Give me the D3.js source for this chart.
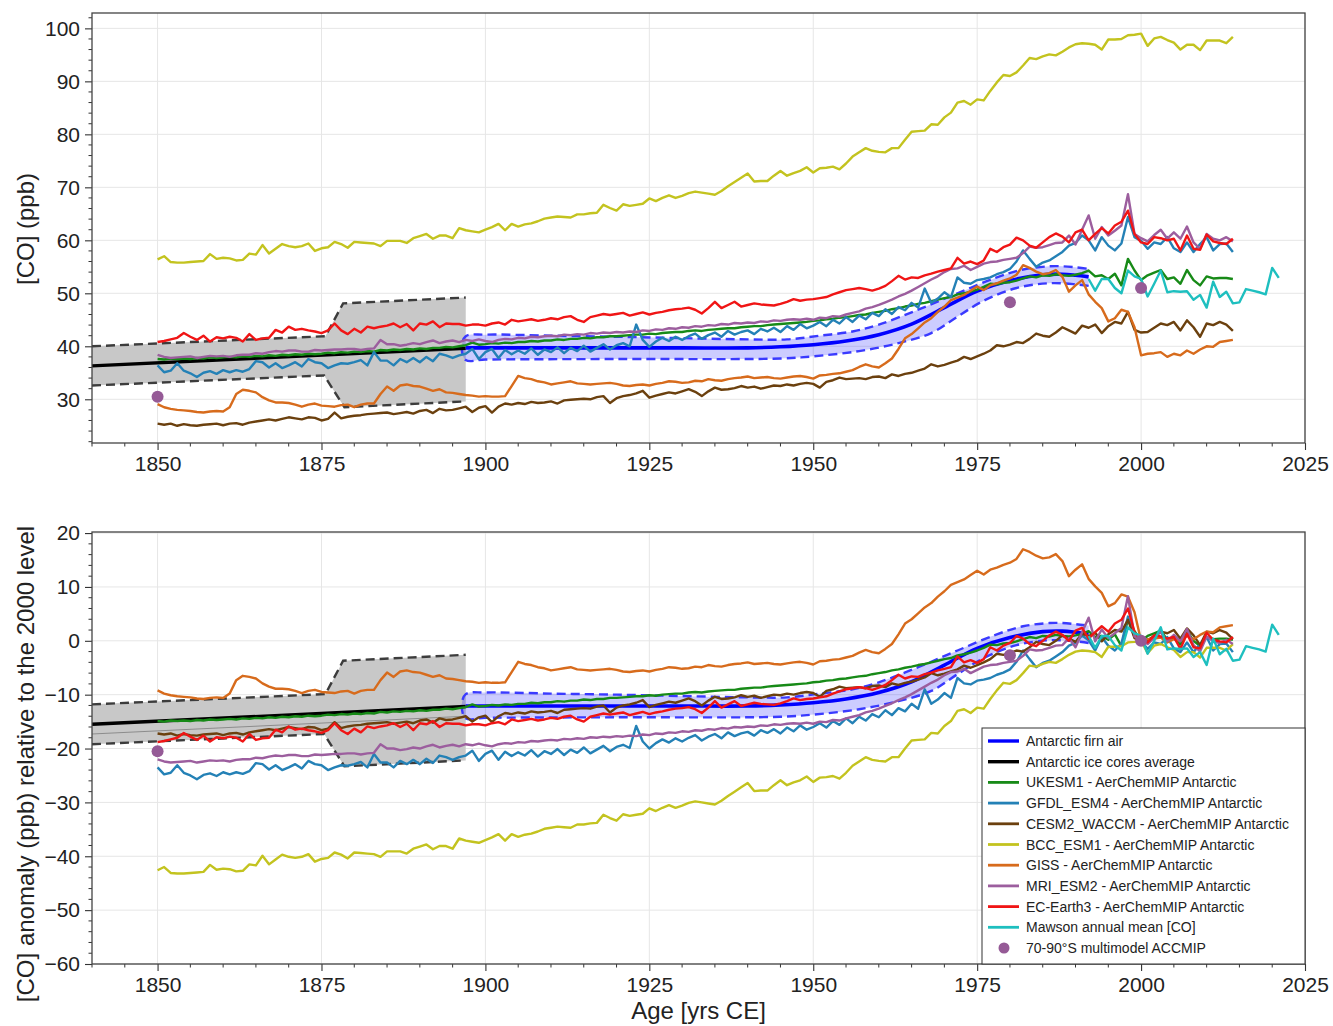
<!DOCTYPE html>
<html>
<head>
<meta charset="utf-8">
<script src="https://cdn.jsdelivr.net/npm/d3@7"></script>
<style>
  html, body { margin: 0; padding: 0; background: #fff; }
  svg { display: block; font-family: "Liberation Sans", Arial, Helvetica, sans-serif; }
</style>
</head>
<body>
<svg id="chart" width="1333" height="1026"></svg>
<script>
// ============================================================
// Antarctic [CO] — firn air, ice cores, AerChemMIP models
// Top: absolute mixing ratio. Bottom: anomaly vs 2000 level.
// ============================================================

(function() {
  'use strict';

  // --- Data: annual model output, 1850-2014 ---
  const years = d3.range(1850, 2015);

  const ukesm1 = [
    37.6, 37.5, 37.7, 37.6, 37.7, 37.6, 37.8, 37.7, 37.9, 37.8,
    37.9, 38.0, 37.9, 38.1, 38.0, 38.2, 38.1, 38.3, 38.2, 38.4,
    38.3, 38.5, 38.4, 38.6, 38.5, 38.6, 38.8, 38.7, 38.9, 38.8,
    39.0, 38.9, 39.1, 39.0, 39.3, 39.2, 39.4, 39.3, 39.5, 39.4,
    39.6, 39.5, 39.7, 39.7, 39.9, 39.8, 40.0, 40.2, 40.7, 40.3,
    40.4, 40.6, 40.5, 40.7, 40.6, 40.8, 40.8, 41.0, 40.9, 41.1,
    41.1, 41.3, 41.2, 41.4, 41.4, 41.6, 41.5, 41.7, 41.7, 41.9,
    41.9, 42.0, 42.1, 42.2, 42.2, 42.4, 42.3, 42.5, 42.6, 42.7,
    42.7, 42.9, 43.0, 42.9, 43.1, 43.2, 43.3, 43.4, 43.4, 43.6,
    43.7, 43.8, 43.8, 44.0, 44.1, 44.2, 44.3, 44.4, 44.5, 44.6,
    44.8, 44.9, 45.1, 45.2, 45.4, 45.5, 45.7, 45.9, 46.0, 46.3,
    46.5, 46.7, 47.0, 47.2, 47.5, 47.7, 48.0, 48.2, 48.5, 48.8,
    49.1, 49.3, 49.8, 50.0, 50.3, 50.7, 51.2, 51.8, 51.7, 52.0,
    52.1, 52.4, 52.8, 53.2, 53.0, 53.4, 53.3, 53.6, 53.4, 53.3,
    53.5, 53.8, 54.3, 53.2, 53.4, 52.7, 53.7, 51.5, 56.5, 54.3,
    52.5, 53.4, 53.9, 54.4, 52.7, 53.0, 51.8, 54.4, 52.5, 51.5,
    53.2, 52.8, 52.9, 52.9, 52.7
  ];

  const gfdlEsm4 = [
    36.4, 35.1, 35.4, 36.8, 35.4, 34.9, 34.2, 35.0, 35.3, 34.8,
    35.5, 35.1, 35.5, 35.2, 35.7, 37.2, 37.0, 36.0, 36.8, 35.9,
    36.4, 37.0, 36.2, 37.6, 37.0, 36.8, 35.9, 36.4, 36.8, 36.7,
    37.0, 37.4, 36.4, 38.9, 37.3, 37.3, 36.4, 37.6, 37.0, 37.8,
    37.0, 38.0, 37.2, 38.6, 38.3, 37.8, 38.3, 38.6, 39.5, 37.6,
    38.9, 39.5, 37.8, 39.3, 38.5, 39.2, 38.6, 39.6, 38.4, 39.4,
    38.9, 39.8, 38.7, 39.7, 39.1, 40.1, 39.0, 39.7, 40.4, 39.4,
    40.2, 40.6, 40.0, 44.1, 41.2, 39.9, 40.9, 41.6, 41.0, 41.8,
    41.2, 41.9, 42.4, 41.4, 42.1, 42.6, 41.8, 42.9, 42.2, 42.7,
    43.0, 42.3, 43.3, 42.8, 43.5, 42.7, 43.8, 43.1, 44.2, 43.4,
    43.9, 44.6, 43.8, 45.0, 44.3, 45.5, 44.6, 45.8, 45.1, 46.3,
    45.7, 47.0, 46.1, 47.4, 46.8, 48.2, 47.3, 50.9, 48.2, 49.0,
    50.2, 49.3, 53.0, 52.0, 51.8, 52.5, 52.7, 53.0, 53.6, 54.0,
    54.6, 56.0, 58.1, 56.5, 55.0, 55.8, 56.2, 57.0, 57.8, 59.0,
    59.5, 60.9, 60.0, 58.1, 60.6, 59.0, 58.1, 59.4, 64.4, 60.6,
    59.9, 58.4, 59.6, 59.3, 60.6, 58.5, 57.8, 59.6, 57.8, 59.3,
    60.6, 58.1, 59.3, 59.4, 57.8
  ];

  const cesm2Waccm = [
    25.4, 25.2, 25.4, 25.0, 25.3, 25.1, 25.0, 25.2, 25.3, 25.4,
    25.1, 25.4, 25.5, 25.2, 25.6, 25.8, 26.0, 26.2, 26.0, 26.3,
    26.6, 26.4, 26.2, 26.6, 26.5, 26.0, 26.3, 27.5, 26.4, 26.7,
    26.9, 27.0, 27.2, 27.3, 27.4, 27.5, 27.2, 27.4, 27.6, 27.3,
    27.8, 28.0, 27.4, 28.2, 27.9, 28.0, 28.3, 28.6, 27.6, 28.4,
    28.7, 27.5, 28.6, 29.2, 29.0, 29.3, 29.1, 29.5, 29.3, 29.4,
    29.6, 29.2, 29.8, 29.9, 30.0, 30.1, 30.0, 30.4, 30.6, 29.3,
    30.2, 30.6, 30.8, 31.1, 31.6, 30.3, 30.7, 31.0, 31.3, 31.1,
    31.5, 31.9, 31.4, 30.6, 31.5, 32.2, 31.8, 31.9, 32.1, 32.5,
    32.2, 32.4, 32.0, 32.3, 32.6, 32.5, 32.8, 32.6, 32.9, 33.1,
    32.9, 32.2, 33.3, 33.6, 34.1, 33.8, 33.9, 34.0, 33.8, 34.2,
    34.3, 34.0, 34.7, 34.4, 34.8, 35.0, 35.4, 35.8, 36.6, 36.2,
    36.5, 36.9, 37.3, 38.0, 37.6, 38.1, 38.6, 39.2, 40.2, 40.0,
    40.3, 40.8, 40.6, 41.4, 42.4, 42.0, 41.8, 42.6, 43.6, 43.0,
    42.4, 43.9, 43.5, 44.1, 42.5, 43.8, 44.6, 44.3, 46.5, 43.1,
    42.6, 42.7, 43.5, 44.3, 44.0, 44.6, 43.0, 44.9, 43.6, 41.8,
    44.3, 44.0, 44.6, 44.1, 42.9
  ];

  const bccEsm1 = [
    56.4, 57.0, 55.9, 55.8, 55.8, 55.9, 56.0, 56.1, 57.4, 56.5,
    56.7, 56.6, 56.2, 56.3, 57.5, 57.3, 59.1, 57.5, 58.4, 59.3,
    58.9, 58.7, 58.9, 59.4, 58.0, 58.5, 58.7, 59.7, 59.3, 58.6,
    59.7, 59.6, 59.5, 59.4, 58.9, 59.9, 59.9, 59.9, 59.5, 60.4,
    60.8, 61.2, 60.3, 60.9, 60.9, 60.4, 62.3, 61.9, 61.7, 61.5,
    62.0, 62.5, 63.1, 61.9, 63.1, 62.6, 63.0, 63.2, 63.6, 64.1,
    64.3, 64.5, 64.4, 64.3, 64.9, 64.9, 65.1, 65.2, 66.7, 66.1,
    65.6, 66.8, 66.5, 66.7, 66.9, 67.9, 67.4, 68.0, 68.5, 68.0,
    68.4, 68.9, 69.2, 69.0, 68.8, 68.6, 69.3, 70.2, 71.0, 71.8,
    72.6, 71.1, 71.2, 71.2, 72.2, 73.1, 72.2, 72.7, 73.1, 73.8,
    72.8, 73.6, 73.7, 73.9, 73.4, 74.5, 75.8, 76.6, 77.4, 76.9,
    76.7, 76.6, 77.4, 77.4, 79.0, 80.5, 80.6, 80.7, 81.9, 81.8,
    83.2, 84.1, 86.0, 86.3, 85.6, 86.6, 86.4, 88.2, 89.8, 91.2,
    91.0, 91.7, 93.0, 94.4, 94.2, 94.7, 95.1, 94.9, 95.6, 96.4,
    97.0, 97.2, 97.1, 96.9, 96.0, 97.9, 97.9, 98.0, 98.7, 98.8,
    99.0, 96.7, 98.1, 98.4, 97.8, 97.3, 96.0, 96.9, 96.9, 95.9,
    97.7, 97.7, 97.7, 97.2, 98.4
  ];

  const giss = [
    29.1, 28.5, 28.2, 28.0, 27.9, 27.8, 27.6, 27.5, 27.7, 27.8,
    27.7, 28.5, 31.0, 31.8, 31.6, 31.3, 30.4, 29.8, 29.4, 29.4,
    29.3, 29.0, 28.6, 29.0, 29.2, 28.8, 28.7, 28.6, 28.9, 29.0,
    28.5, 29.0, 29.2, 29.2, 31.0, 32.4, 31.6, 32.6, 32.8, 32.5,
    32.4, 32.0, 31.6, 31.9, 31.3, 31.2, 31.0, 30.8, 30.7, 30.5,
    30.6, 30.5, 30.5, 30.6, 32.5, 34.4, 34.0, 33.8, 33.4, 33.2,
    32.8, 33.0, 33.2, 33.4, 33.0, 32.9, 32.8, 32.9, 33.0, 33.1,
    32.9, 32.6, 32.5, 32.7, 32.8, 32.6, 32.9, 33.1, 33.4, 33.3,
    33.1, 33.2, 33.5, 33.4, 33.8, 33.6, 33.5, 33.8, 34.0, 34.1,
    34.3, 34.0, 34.1, 34.2, 34.0, 33.9, 34.1, 34.3, 34.4, 34.2,
    33.9, 34.5, 34.6, 34.8, 34.9, 35.2, 35.5, 36.1, 36.6, 36.2,
    36.0, 36.8, 37.7, 39.5, 41.5, 42.3, 43.4, 44.5, 45.3, 46.5,
    47.5, 48.7, 49.2, 49.7, 50.5, 51.3, 50.6, 51.5, 51.9, 52.4,
    52.8, 53.5, 55.3, 54.8, 54.1, 53.6, 53.8, 54.4, 53.1, 50.3,
    51.5, 52.5, 49.8, 48.4, 47.2, 44.7, 45.3, 46.9, 46.5, 43.6,
    38.3, 38.6, 38.7, 38.9, 38.0, 38.6, 38.3, 39.2, 38.6, 39.4,
    40.0, 39.9, 40.8, 41.0, 41.2
  ];

  const mriEsm2 = [
    38.4, 38.0, 37.8, 37.9, 38.0, 38.1, 37.8, 38.0, 38.2, 38.1,
    38.2, 38.0, 38.3, 38.4, 38.4, 38.7, 38.6, 38.9, 39.1, 39.0,
    39.2, 39.2, 39.0, 39.0, 39.3, 39.2, 39.3, 39.4, 39.4, 39.5,
    39.5, 39.3, 39.5, 39.6, 41.2, 40.4, 40.4, 40.1, 40.3, 40.6,
    40.4, 40.8, 41.1, 40.6, 40.9, 41.1, 40.8, 41.2, 41.0, 41.3,
    41.0, 40.8, 41.2, 41.4, 41.3, 41.6, 41.5, 41.8, 41.7, 41.9,
    42.0, 41.9, 42.2, 42.1, 42.3, 42.2, 42.5, 42.4, 42.6, 42.5,
    42.7, 42.6, 42.8, 42.7, 43.0, 42.9, 43.2, 43.1, 43.4, 43.3,
    43.6, 43.5, 43.8, 43.7, 44.0, 43.9, 44.2, 44.1, 44.4, 44.3,
    44.5, 44.4, 44.7, 44.6, 44.9, 44.8, 45.0, 45.1, 45.0, 45.2,
    45.0, 45.4, 45.3, 45.7, 45.6, 46.0, 46.3, 46.6, 47.1, 47.4,
    47.8, 48.3, 48.8, 49.4, 49.9, 50.5, 51.2, 51.9, 52.6, 53.2,
    54.0, 54.6, 54.7, 55.2, 54.4, 55.0, 55.6, 55.9, 56.0, 56.3,
    56.5, 56.7, 57.6, 58.8, 58.6, 58.7, 59.1, 59.5, 59.6, 60.9,
    59.2, 62.0, 64.7, 60.3, 62.5, 60.9, 61.8, 62.8, 68.7, 61.2,
    60.4, 59.8, 61.0, 62.0, 60.3, 61.5, 60.3, 62.6, 59.6, 58.4,
    61.2, 60.3, 60.0, 60.6, 59.8
  ];

  const ecEarth3 = [
    40.8, 41.0, 41.3, 41.6, 42.5, 41.8, 41.2, 42.0, 40.9, 41.7,
    41.5, 41.8, 41.6, 40.9, 42.3, 41.2, 41.5, 41.6, 43.1, 42.6,
    43.7, 43.1, 43.3, 43.0, 42.8, 42.5, 43.0, 44.3, 43.0, 42.3,
    43.3, 42.6, 43.7, 43.4, 43.7, 43.9, 44.3, 43.6, 44.2, 43.0,
    44.3, 44.1, 44.7, 43.6, 44.3, 44.2, 44.2, 43.9, 44.1, 44.1,
    43.9, 44.3, 44.5, 44.1, 45.0, 44.7, 44.9, 45.1, 44.8, 45.0,
    45.3, 45.1, 45.5, 45.7, 45.0, 44.6, 45.5, 45.8, 46.1, 45.9,
    46.1, 46.3, 45.8, 46.1, 46.4, 46.0, 46.3, 46.5, 46.8, 47.0,
    47.1, 47.3, 46.9, 46.2, 47.2, 48.4, 47.2, 47.8, 48.4, 47.5,
    47.8, 48.1, 47.9, 47.8, 47.7, 48.0, 48.4, 48.9, 48.6, 48.8,
    48.9, 49.1, 49.3, 49.8, 50.2, 50.6, 50.8, 51.0, 50.8, 50.5,
    50.9, 51.4, 52.3, 53.3, 52.6, 53.0, 52.9, 53.4, 53.7, 54.1,
    54.4, 54.7, 56.7, 55.6, 56.0, 55.5, 56.2, 58.4, 57.8, 58.7,
    59.2, 60.5, 60.0, 59.0, 58.6, 59.6, 60.6, 61.3, 60.7, 59.6,
    61.5, 62.0, 60.0, 61.2, 62.3, 61.3, 62.8, 63.5, 65.6, 61.2,
    59.6, 59.3, 60.6, 60.4, 60.0, 60.3, 58.1, 60.9, 58.4, 58.2,
    61.1, 59.8, 59.5, 59.3, 60.3
  ];

  // --- Data: Antarctic firn air reconstruction ---
  const firnYears = [1897, 1900, 1910, 1920, 1930, 1940, 1945, 1950, 1955, 1960, 1965, 1970, 1975, 1980, 1985, 1988, 1990, 1992];
  const firnMid   = [39.7, 39.7, 39.7, 39.7, 39.7, 39.7, 39.9, 40.3, 41.0, 42.2, 44.2, 47.3, 50.4, 52.4, 53.5, 53.6, 53.4, 53.1];
  const firnHiYears = [1897, 1900, 1910, 1920, 1928, 1940, 1946, 1951, 1956, 1960, 1966, 1972, 1978, 1982, 1986, 1988, 1990, 1992];
  const firnHi      = [41.9, 42.2, 42.0, 41.8, 41.6, 41.3, 41.3, 42.0, 42.8, 44.1, 46.9, 50.0, 53.0, 54.5, 55.1, 55.1, 54.9, 54.6];
  const firnLoYears = [1897, 1900, 1920, 1945, 1950, 1957, 1963, 1968, 1972, 1976, 1981, 1986, 1990, 1992];
  const firnLo      = [37.4, 37.5, 37.6, 37.7, 38.1, 39.1, 40.6, 42.5, 45.6, 48.6, 51.0, 51.9, 51.7, 51.4];

  // --- Data: Antarctic ice cores average ---
  const iceMidYears = [1840, 1897];
  const iceMid      = [36.3, 39.6];
  const iceHiYears  = [1840, 1875.6, 1878.3, 1897];
  const iceHi       = [40.0, 41.9, 48.1, 49.2];
  const iceLoYears  = [1840, 1875.4, 1878.5, 1897];
  const iceLo       = [32.6, 34.5, 28.5, 29.6];
  // faint companion line seen only in the anomaly panel (already as anomaly)
  const iceAltYears = [1840, 1897];
  const iceAltAnom  = [-17.3, -14.0];

  // --- Data: Mawson station annual mean ---
  const mawsonYears = d3.range(1992, 2022);
  const mawson = [
    52.7, 50.5, 52.7, 52.7, 51.0, 50.0, 54.3, 53.2, 52.7, 49.4,
    51.8, 54.3, 50.2, 50.4, 50.3, 50.4, 48.8, 49.7, 47.3, 52.2,
    49.3, 50.3, 48.1, 48.3, 50.8, 50.5, 50.2, 49.8, 54.8, 52.9
  ];

  // --- Data: ACCMIP 70-90°S multimodel mean ---
  const accmipYears = [1850, 1980, 2000];
  const accmip      = [30.5, 48.3, 51.0];

  // 2000 level used for firn, ice-core and Mawson anomalies
  const firnRef2000 = 51.8;

  // --- Series styling ---
  const models = [
    { name: 'UKESM1 - AerChemMIP Antarctic',      values: ukesm1,     color: '#178a17' },
    { name: 'GFDL_ESM4 - AerChemMIP Antarctic',   values: gfdlEsm4,   color: '#2481b6' },
    { name: 'CESM2_WACCM - AerChemMIP Antarctic', values: cesm2Waccm, color: '#6b400e' },
    { name: 'BCC_ESM1 - AerChemMIP Antarctic',    values: bccEsm1,    color: '#c3c31f' },
    { name: 'GISS - AerChemMIP Antarctic',        values: giss,       color: '#d76b1c' },
    { name: 'MRI_ESM2 - AerChemMIP Antarctic',    values: mriEsm2,    color: '#9c5e9e' },
    { name: 'EC-Earth3 - AerChemMIP Antarctic',   values: ecEarth3,   color: '#f01515' }
  ];
  const COLORS = {
    firn: '#0000ff', firnFill: 'rgba(0,0,255,0.2)', firnDash: '#3a3aff',
    ice: '#000000', iceFill: '#c8c8c8', iceDash: '#3c3c3c',
    mawson: '#1ebfbf', accmip: '#955a96', grid: '#e6e6e6', spine: '#444', text: '#222'
  };
  const LINE_W = 2.4;

  const svg = d3.select('#chart');
  const xDomain = [1840, 2025];
  const xMajor = d3.range(1850, 2026, 25);
  const xMinor = d3.range(1840, 2026, 5);
  const idx2000 = years.indexOf(2000);

  const panels = [
    { id: 'abs',  top: 13,  bottom: 443, left: 92, right: 1305,
      yDomain: [21.75, 102.9], yMajor: d3.range(30, 101, 10), yMinor: d3.range(22, 103, 2),
      anomaly: false, label: '[CO] (ppb)', labelY: 229 },
    { id: 'anom', top: 532, bottom: 964, left: 92, right: 1305,
      yDomain: [-60, 20.2], yMajor: d3.range(-60, 21, 10), yMinor: d3.range(-60, 21, 2),
      anomaly: true, label: '[CO] anomaly (ppb) relative to the 2000 level', labelY: 764 }
  ];

  panels.forEach(drawPanel);
  drawLegend(panels[1]);

  // x axis title
  svg.append('text')
    .attr('x', (panels[1].left + panels[1].right) / 2).attr('y', 1019)
    .attr('text-anchor', 'middle').attr('font-size', 24).attr('fill', COLORS.text)
    .text('Age [yrs CE]');

  // --- Panel ---
  function drawPanel(p) {
    const x = d3.scaleLinear().domain(xDomain).range([p.left, p.right]);
    const y = d3.scaleLinear().domain(p.yDomain).range([p.bottom, p.top]);
    const g = svg.append('g').attr('class', 'panel-' + p.id);

    const clipId = 'clip-' + p.id;
    svg.append('clipPath').attr('id', clipId).append('rect')
      .attr('x', p.left).attr('y', p.top)
      .attr('width', p.right - p.left).attr('height', p.bottom - p.top);

    // grid
    const grid = g.append('g');
    grid.selectAll('.gx').data(xMajor).enter().append('line')
      .attr('x1', d => x(d)).attr('x2', d => x(d)).attr('y1', p.top).attr('y2', p.bottom)
      .attr('stroke', COLORS.grid).attr('stroke-width', 1);
    grid.selectAll('.gy').data(p.yMajor).enter().append('line')
      .attr('x1', p.left).attr('x2', p.right).attr('y1', d => y(d)).attr('y2', d => y(d))
      .attr('stroke', COLORS.grid).attr('stroke-width', 1);

    const plot = g.append('g').attr('clip-path', `url(#${clipId})`);
    const off = ref => p.anomaly ? ref : 0;
    const pts = (xs, vs, ref) => xs.map((yr, i) => [x(yr), y(vs[i] - off(ref))]);
    const line = d3.line();
    const smooth = d3.line().curve(d3.curveCatmullRom.alpha(0.5));

    // ice-core band
    const iceUp = pts(iceHiYears, iceHi, firnRef2000);
    const iceDn = pts(iceLoYears, iceLo, firnRef2000);
    plot.append('path').attr('d', line(iceUp.concat(iceDn.slice().reverse())) + 'Z')
      .attr('fill', COLORS.iceFill).attr('stroke', 'none');
    [iceUp, iceDn].forEach(d => {
      plot.append('path').attr('d', line(d)).attr('fill', 'none')
        .attr('stroke', COLORS.iceDash).attr('stroke-width', 2.4).attr('stroke-dasharray', '9,5');
    });
    if (p.anomaly) {
      plot.append('path').attr('d', line(iceAltYears.map((yr, i) => [x(yr), y(iceAltAnom[i])])))
        .attr('fill', 'none').attr('stroke', '#8c8c8c').attr('stroke-width', 1);
    }

    // firn band: lower edge right->left, rounded cap, upper edge left->right
    const firnUp = pts(firnHiYears, firnHi, firnRef2000);
    const firnDn = pts(firnLoYears, firnLo, firnRef2000);
    const cap = [x(1896.4), y(firnMid[0] - off(firnRef2000))];
    const outline = firnDn.slice().reverse().concat([cap], firnUp);
    plot.append('path').attr('d', smooth(outline) + 'Z')
      .attr('fill', COLORS.firnFill).attr('stroke', 'none');
    plot.append('path').attr('d', smooth(outline)).attr('fill', 'none')
      .attr('stroke', COLORS.firnDash).attr('stroke-width', 2.4).attr('stroke-dasharray', '9,5');

    // centre lines
    plot.append('path').attr('d', line(pts(iceMidYears, iceMid, firnRef2000)))
      .attr('fill', 'none').attr('stroke', COLORS.ice).attr('stroke-width', 3.4);
    plot.append('path').attr('d', smooth(pts(firnYears, firnMid, firnRef2000)))
      .attr('fill', 'none').attr('stroke', COLORS.firn).attr('stroke-width', 3.6);

    // models
    models.forEach(m => {
      plot.append('path').attr('d', line(pts(years, m.values, m.values[idx2000])))
        .attr('fill', 'none').attr('stroke', m.color).attr('stroke-width', LINE_W)
        .attr('stroke-linejoin', 'round');
    });

    // Mawson
    plot.append('path').attr('d', line(pts(mawsonYears, mawson, firnRef2000)))
      .attr('fill', 'none').attr('stroke', COLORS.mawson).attr('stroke-width', LINE_W)
      .attr('stroke-linejoin', 'round');

    // ACCMIP points
    const accRef = accmip[accmipYears.indexOf(2000)];
    plot.selectAll('.acc').data(accmipYears).enter().append('circle')
      .attr('cx', d => x(d))
      .attr('cy', (d, i) => y(accmip[i] - off(accRef)))
      .attr('r', 6).attr('fill', COLORS.accmip);

    // axes
    const xAxis = g.append('g').attr('transform', `translate(0,${p.bottom})`)
      .call(d3.axisBottom(x).tickValues(xMajor).tickSize(7).tickPadding(6).tickFormat(d3.format('d')));
    const yAxis = g.append('g').attr('transform', `translate(${p.left},0)`)
      .call(d3.axisLeft(y).tickValues(p.yMajor).tickSize(7).tickPadding(5).tickFormat(d3.format('d')));
    [xAxis, yAxis].forEach(a => {
      a.select('.domain').remove();
      a.selectAll('line').attr('stroke', '#333').attr('stroke-width', 1.1);
      a.selectAll('text').attr('font-size', 21).attr('fill', COLORS.text)
        .attr('font-family', '"Liberation Sans", Arial, Helvetica, sans-serif');
    });

    // minor ticks
    g.append('g').selectAll('line').data(xMinor.filter(d => !xMajor.includes(d))).enter().append('line')
      .attr('x1', d => x(d)).attr('x2', d => x(d)).attr('y1', p.bottom).attr('y2', p.bottom + 3.5)
      .attr('stroke', '#333').attr('stroke-width', 1);
    g.append('g').selectAll('line').data(p.yMinor.filter(d => !p.yMajor.includes(d))).enter().append('line')
      .attr('x1', p.left - 3.5).attr('x2', p.left).attr('y1', d => y(d)).attr('y2', d => y(d))
      .attr('stroke', '#333').attr('stroke-width', 1);

    // frame
    g.append('rect').attr('x', p.left).attr('y', p.top)
      .attr('width', p.right - p.left).attr('height', p.bottom - p.top)
      .attr('fill', 'none').attr('stroke', COLORS.spine).attr('stroke-width', 1.3);

    // y title
    g.append('text')
      .attr('transform', `translate(25,${p.labelY}) rotate(-90)`)
      .attr('text-anchor', 'middle').attr('dominant-baseline', 'central')
      .attr('font-size', 24).attr('fill', COLORS.text)
      .text(p.label);
  }

  // --- Legend ---
  function drawLegend(p) {
    const entries = [
      { name: 'Antarctic firn air', color: COLORS.firn, width: 3.4 },
      { name: 'Antarctic ice cores average', color: COLORS.ice, width: 3.4 }
    ].concat(models.map(m => ({ name: m.name, color: m.color, width: 2.8 })))
     .concat([
      { name: 'Mawson annual mean [CO]', color: COLORS.mawson, width: 2.8 },
      { name: '70-90°S multimodel ACCMIP', color: COLORS.accmip, dot: true }
    ]);

    const box = { x: 982, y: 728, w: p.right - 982, h: p.bottom - 728 };
    const lg = svg.append('g').attr('class', 'legend');
    lg.append('rect').attr('x', box.x).attr('y', box.y).attr('width', box.w).attr('height', box.h)
      .attr('fill', '#fff').attr('stroke', '#333').attr('stroke-width', 1);

    const rowY = i => 741 + i * 20.7;
    entries.forEach((e, i) => {
      const row = lg.append('g');
      if (e.dot) {
        row.append('circle').attr('cx', 1004).attr('cy', rowY(i)).attr('r', 5.5).attr('fill', e.color);
      } else {
        row.append('line').attr('x1', 988).attr('x2', 1019).attr('y1', rowY(i)).attr('y2', rowY(i))
          .attr('stroke', e.color).attr('stroke-width', e.width);
      }
      row.append('text').attr('x', 1026).attr('y', rowY(i)).attr('dominant-baseline', 'central')
        .attr('font-size', 14).attr('fill', COLORS.text).text(e.name);
    });
  }
})();
</script>
</body>
</html>
